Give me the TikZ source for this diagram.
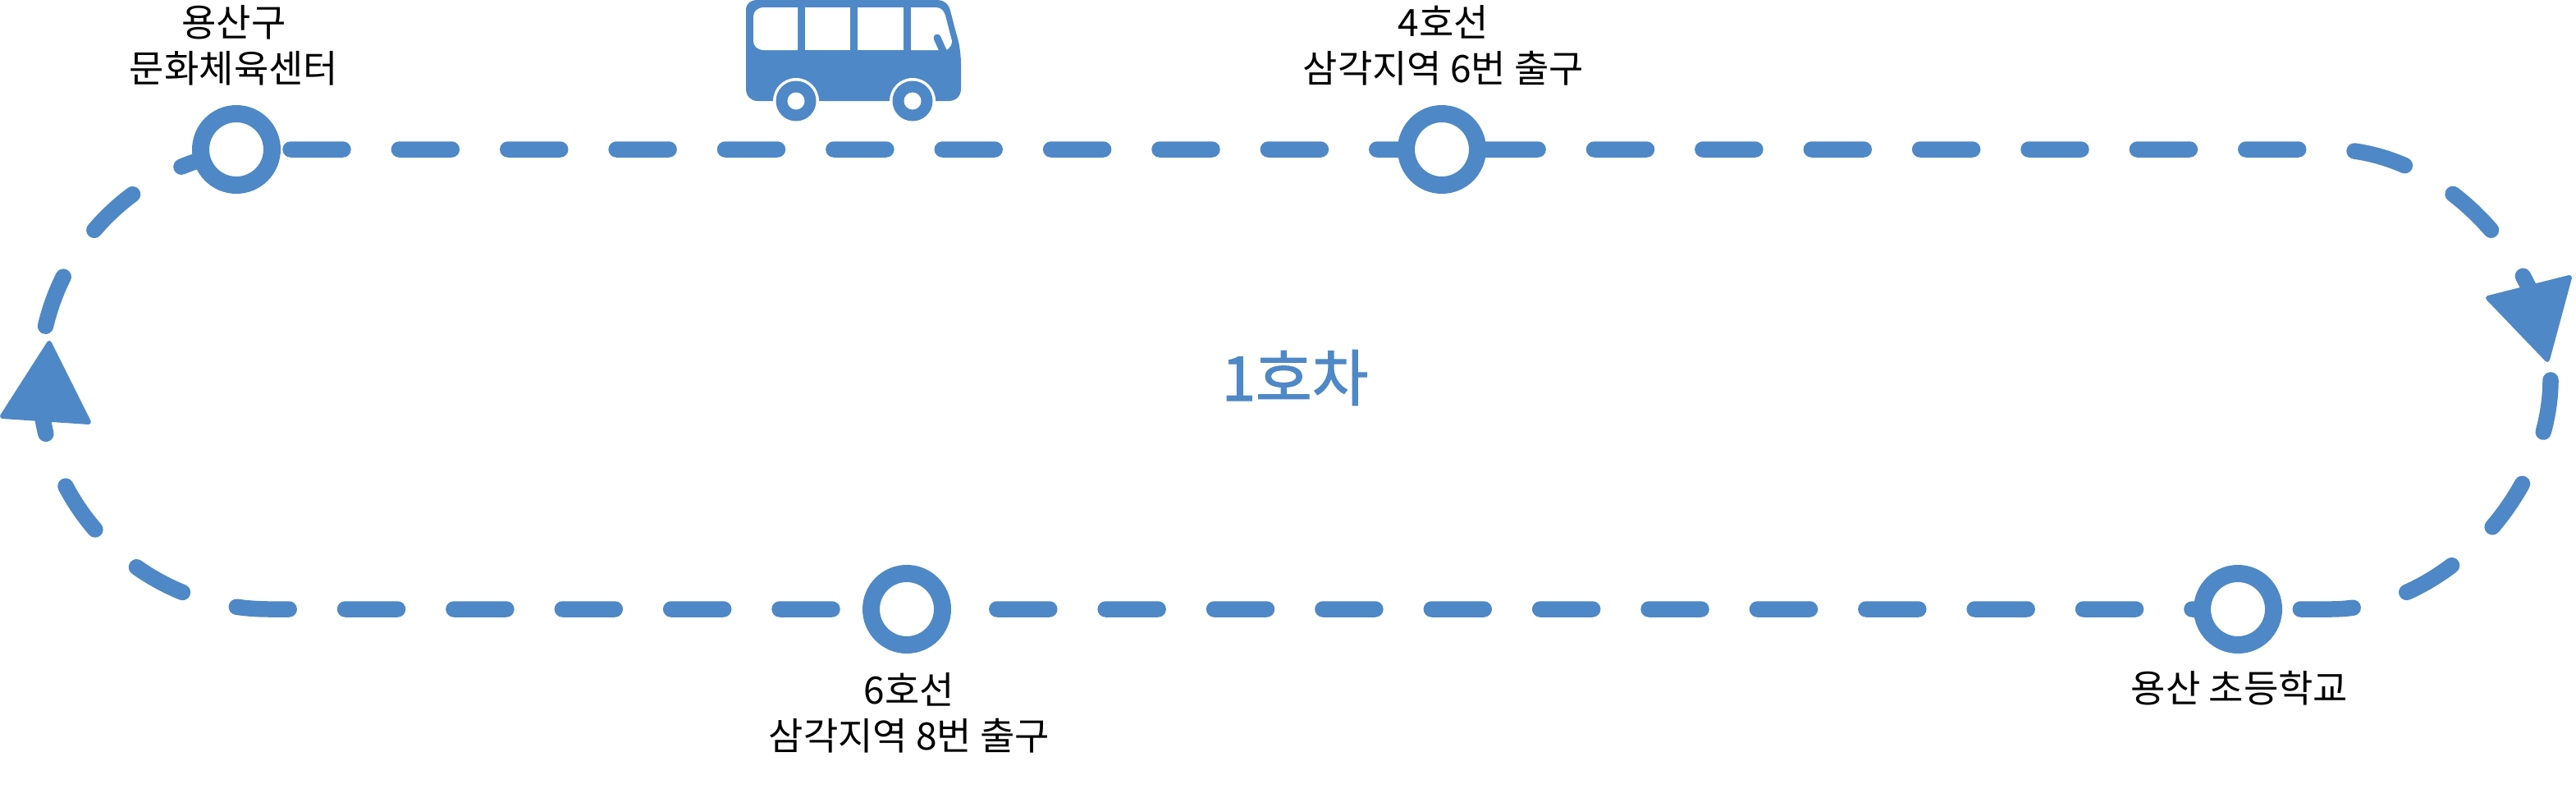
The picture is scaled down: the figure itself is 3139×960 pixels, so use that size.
\documentclass[tikz,border=0pt]{standalone}
\usepackage{fontspec}
\newfontfamily\kr{Noto Sans CJK KR}
\newfontfamily\krmed[FakeBold=1.6]{Noto Sans CJK KR}
\definecolor{busblue}{HTML}{4F88C6}
\tikzset{
  track/.style={draw=busblue,line width=.39cm,line cap=round,dash pattern=on 1.28cm off 1.368cm},
  stopring/.style={circle,draw=busblue,fill=white,line width=.42cm,minimum size=1.74cm,inner sep=0pt},
  stoplabel/.style={align=center,text=black,font=\kr\fontsize{26.2}{31.8}\selectfont},
  arrowtri/.style={fill=busblue,draw=busblue,line width=.12cm,line join=round},
  buspart/.style={fill=busblue},
  buswin/.style={fill=white}
}
\begin{document}
\begin{tikzpicture}[x=.02cm,y=-.02cm]
\useasboundingbox (0,0) rectangle (3139,960);
\coordinate (c1) at (288,182);
% track
\coordinate (trackstart) at (354,182);
\draw[track] (trackstart) -- (2840,182)
  .. controls (2978,182) and (3108,322) .. (3108,462)
  .. controls (3108,602) and (2978,742) .. (2840,742)
  -- (328,742)
  .. controls (173.4,742) and (48,617) .. (48,462)
  .. controls (48,307) and (173.4,182) .. (328,182)
  -- (c1);
% arrowheads
\draw[arrowtri] (3032,363) -- (3131,338) -- (3104,438) -- cycle;
\draw[arrowtri] (60,418) -- (3,507) -- (108,514) -- cycle;
% stops
\node[stopring] (s1) at (c1) {};
\node[stopring] (s2) at (1757,182) {};
\node[stopring] (s3) at (1105,742) {};
\node[stopring] (s4) at (2727,742) {};
% labels
\node[stoplabel] (l1) at (285,55) {용산구\\문화체육센터};
\node[stoplabel] (l2) at (1759,55) {4호선\\삼각지역 6번 출구};
\node[stoplabel] (l3) at (1108,868) {6호선\\삼각지역 8번 출구};
\node[stoplabel] (l4) at (2729,838) {용산 초등학교};
\node[text=busblue,font=\krmed\fontsize{42.5}{48}\selectfont] (title) at (1578,460) {1호차};
% bus
\fill[buspart] (909,12) .. controls (909,4) and (915,0) .. (923,0)
  -- (1143,0) .. controls (1150,0) and (1156,5) .. (1158,13)
  -- (1165,40) .. controls (1169,52) and (1171,65) .. (1171,80)
  -- (1171,108) .. controls (1171,117) and (1165,123) .. (1156,123)
  -- (923,123) .. controls (915,123) and (909,117) .. (909,108) -- cycle;
\fill[buswin] (931,9) -- (972,9) -- (972,61) -- (931,61)
  .. controls (923,61) and (918,56) .. (918,50) -- (918,20)
  .. controls (918,14) and (923,9) .. (931,9) -- cycle;
\fill[buswin] (981,9) rectangle (1036,61);
\fill[buswin] (1045,9) rectangle (1101,61);
\fill[buswin] (1110,9) -- (1140,9) .. controls (1147,9) and (1150,13) .. (1152,19)
  -- (1160,50) .. controls (1160,55) and (1157,59) .. (1153,61) -- (1110,61) -- cycle;
\draw[busblue,line width=.18cm,line cap=round] (1142,46) -- (1150,64);
\fill[white] (970,123) circle (28);
\fill[white] (1112,123) circle (28);
\fill[buspart] (970,123) circle (24.5);
\fill[buspart] (1112,123) circle (24.5);
\fill[white] (970,123) circle (10.5);
\fill[white] (1112,123) circle (10.5);
\end{tikzpicture}
\end{document}
